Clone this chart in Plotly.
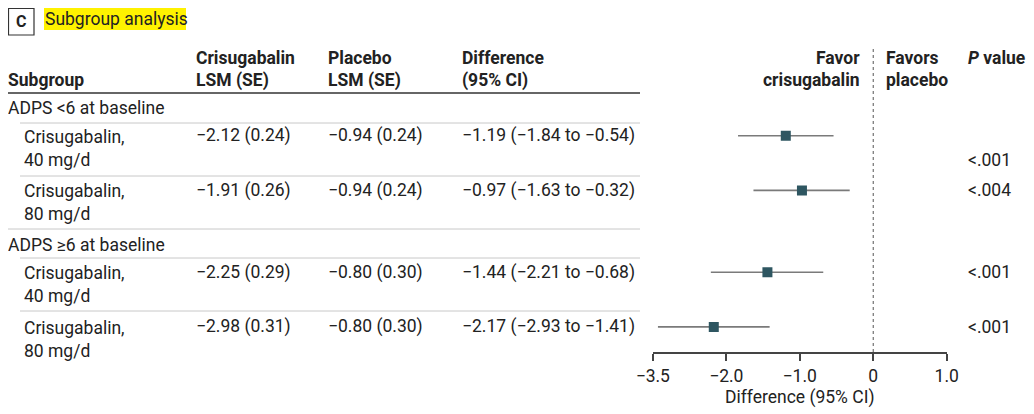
import plotly.graph_objects as go

# ---- data ----
groups = ["ADPS <6 at baseline", "ADPS ≥6 at baseline"]
subgroups = ["Crisugabalin,<br>40 mg/d", "Crisugabalin,<br>80 mg/d",
             "Crisugabalin,<br>40 mg/d", "Crisugabalin,<br>80 mg/d"]
cris_lsm = ["−2.12 (0.24)", "−1.91 (0.26)", "−2.25 (0.29)", "−2.98 (0.31)"]
plac_lsm = ["−0.94 (0.24)", "−0.94 (0.24)", "−0.80 (0.30)", "−0.80 (0.30)"]
diff = [-1.19, -0.97, -1.44, -2.17]
ci_low = [-1.84, -1.63, -2.21, -2.93]
ci_high = [-0.54, -0.32, -0.68, -1.41]
p_values = ["<.001", "<.004", "<.001", "<.001"]
tick_vals = [-3, -2, -1, 0, 1]
tick_text = ["−3.5", "−2.0", "−1.0", "0", "1.0"]

# layout rows (in text-line units)
group_rows = [0, 5]
row_y = [1, 3, 6, 8]
p_offset = [0.9, 0, 0, 0]

OFF = 8  # page body margin
W, H = 1034 - OFF, 414 - OFF
FONT = "Roboto"
FS = 17.5
TXT = "#222222"

def px(x):
    return (x - OFF) / W

def py(y):
    return 1 - (y - OFF) / H

Y0, UNIT = 108.5, 27.3
def rowpx(r):
    return Y0 + UNIT * r

fig = go.Figure()

# CI lines
for i in range(len(diff)):
    fig.add_trace(go.Scatter(x=[ci_low[i], ci_high[i]], y=[row_y[i], row_y[i]],
                             mode="lines", line=dict(color="#7a7a7a", width=1.6),
                             hoverinfo="skip", showlegend=False))
fig.add_trace(go.Scatter(x=diff, y=row_y, mode="markers",
                         marker=dict(symbol="square", size=10, color="#2e5661"),
                         showlegend=False))

ann = []
def text(x, y, s, size=FS, anchor="left", bold=False, color=TXT, yanchor="middle"):
    if bold:
        s = "<b>" + s + "</b>"
    ann.append(dict(x=px(x), y=py(y), xref="paper", yref="paper", text=s,
                    showarrow=False, xanchor=anchor, yanchor=yanchor,
                    font=dict(family=FONT, size=size, color=color), align=anchor))

# title
text(43, 19, "Subgroup analysis", size=17.5)
text(21, 21, "<b>C</b>", size=16, anchor="center")

# headers
text(6, 80, "Subgroup", bold=True)
text(194, 58, "Crisugabalin", bold=True)
text(194, 80, "LSM (SE)", bold=True)
text(326, 58, "Placebo", bold=True)
text(326, 80, "LSM (SE)", bold=True)
text(460, 58, "Difference", bold=True)
text(460, 80, "(95% CI)", bold=True)
text(862, 58, "Favor", bold=True, anchor="right")
text(862, 80, "crisugabalin", bold=True, anchor="right")
text(884, 58, "Favors", bold=True)
text(884, 80, "placebo", bold=True)
text(966, 58, "<b><i>P</i> value</b>")

for g, r in zip(groups, group_rows):
    text(6, rowpx(r), g)
for i, r in enumerate(row_y):
    y = rowpx(r)
    ann.append(dict(x=px(22), y=py(y - 11), xref="paper", yref="paper",
                    text=subgroups[i], showarrow=False, xanchor="left", yanchor="top",
                    align="left", font=dict(family=FONT, size=FS, color=TXT)))
    text(194, y, cris_lsm[i])
    text(326, y, plac_lsm[i])
    text(460, y, f"{diff[i]:.2f} ({ci_low[i]:.2f} to {ci_high[i]:.2f})".replace("-", "−"))
    text(966, y + p_offset[i] * UNIT, p_values[i])

shapes = []
# title box and highlight
shapes.append(dict(type="rect", xref="paper", yref="paper", x0=px(44), x1=px(186),
                   y0=py(30), y1=py(8), fillcolor="#fff200", line=dict(width=0), layer="below"))
shapes.append(dict(type="rect", xref="paper", yref="paper", x0=px(8.5), x1=px(34),
                   y0=py(35), y1=py(8.5), line=dict(color="#333333", width=1.2)))
# table rules
shapes.append(dict(type="line", xref="paper", yref="paper", x0=px(8), x1=px(640),
                   y0=py(93), y1=py(93), line=dict(color="#333333", width=1.6)))
for yy, x0 in [(123, 20), (176, 20), (229, 8), (258, 20), (311, 20)]:
    shapes.append(dict(type="line", xref="paper", yref="paper", x0=px(x0), x1=px(640),
                       y0=py(yy), y1=py(yy), line=dict(color="#c8c8c8", width=1)))
# zero reference line
shapes.append(dict(type="line", xref="x", yref="paper", x0=0, x1=0,
                   y0=py(352), y1=py(48), line=dict(color="#555555", width=1, dash="dot")))

ax_left, ax_right = 652.8, 946.7
y_bottom, y_top = 352, 95
fig.update_layout(
    width=W, height=H, margin=dict(l=0, r=0, t=0, b=0, autoexpand=False),
    paper_bgcolor="white", plot_bgcolor="white",
    annotations=ann, shapes=shapes,
    xaxis=dict(domain=[px(ax_left), px(ax_right)], range=[-3, 1], automargin=False,
               tickvals=tick_vals, ticktext=tick_text, showgrid=False, zeroline=False,
               showline=True, linecolor="#444444", linewidth=1.5,
               ticks="outside", ticklen=7, tickwidth=1.5, tickcolor="#444444",
               tickfont=dict(family=FONT, size=FS, color=TXT),
               title=dict(text="Difference (95% CI)", font=dict(family=FONT, size=FS, color=TXT),
                          standoff=6)),
    yaxis=dict(domain=[py(y_bottom), py(y_top)], automargin=False,
               range=[(y_bottom - Y0) / UNIT, (y_top - Y0) / UNIT],
               visible=False),
)

fig.write_html("out.html")
